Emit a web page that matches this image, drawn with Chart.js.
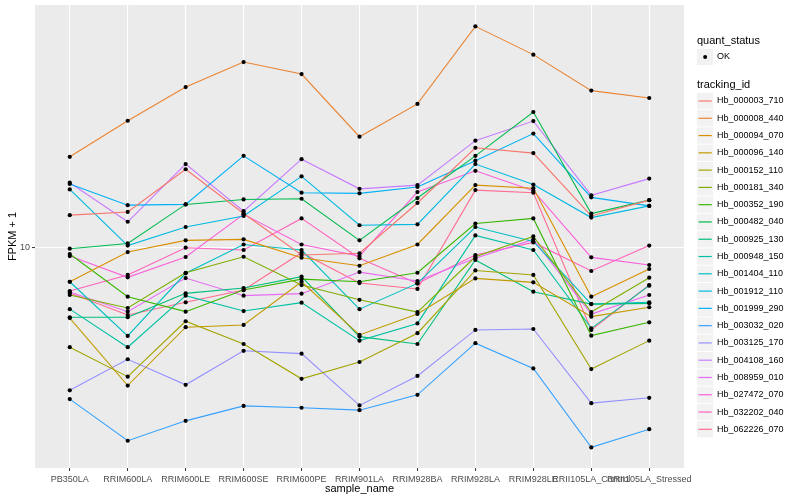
<!DOCTYPE html>
<html>
<head>
<meta charset="utf-8">
<script src="https://cdn.jsdelivr.net/npm/chart.js@4"></script>
<style>
html, body { margin: 0; padding: 0; background: #fff; }
#wrap { width: 800px; height: 500px; position: relative; }
</style>
</head>
<body>
<div id="wrap"><canvas id="chart" width="800" height="500"></canvas></div>
<script>
// FPKM + 1 per sample (log10 y axis)
const sampleNames = ['PB350LA', 'RRIM600LA', 'RRIM600LE', 'RRIM600SE', 'RRIM600PE', 'RRIM901LA',
    'RRIM928BA', 'RRIM928LA', 'RRIM928LE', 'RRII105LA_Control', 'RRII105LA_Stressed'];

const trackingIds = ['Hb_000003_710', 'Hb_000008_440', 'Hb_000094_070', 'Hb_000096_140', 'Hb_000152_110',
    'Hb_000181_340', 'Hb_000352_190', 'Hb_000482_040', 'Hb_000925_130', 'Hb_000948_150',
    'Hb_001404_110', 'Hb_001912_110', 'Hb_001999_290', 'Hb_003032_020', 'Hb_003125_170',
    'Hb_004108_160', 'Hb_008959_010', 'Hb_027472_070', 'Hb_032202_040', 'Hb_062226_070'];

const trackingColors = ['#F8766D', '#EA8331', '#D89000', '#C09B00', '#A3A500', '#7CAE00', '#39B600',
    '#00BB4E', '#00BF7D', '#00C1A3', '#00BFC4', '#00BAE0', '#00B0F6', '#35A2FF', '#9590FF',
    '#C77CFF', '#E76BF3', '#FA62DB', '#FF62BC', '#FF6C91'];

const hb000003 = [13.5, 13.9, 20.6, 13.7, 9.35, 9.50, 15.1, 25.1, 23.9, 13.4, 15.5];
const hb000008 = [23.1, 32.2, 43.9, 55.3, 49.5, 27.8, 37.6, 76.8, 59.2, 42.5, 39.7];
const hb000094 = [7.31, 9.61, 10.7, 10.8, 9.12, 8.47, 10.3, 17.8, 17.3, 6.37, 8.22];
const hb000096 = [5.23, 2.81, 4.81, 4.91, 7.31, 4.48, 5.43, 7.54, 7.27, 5.30, 5.78];
const hb000152 = [4.00, 3.05, 5.08, 4.12, 2.99, 3.49, 4.55, 8.11, 7.78, 3.27, 4.25];
const hb000181 = [6.47, 5.74, 7.94, 9.20, 7.09, 6.19, 5.53, 9.20, 11.1, 5.53, 7.59];
const hb000352 = [9.44, 6.37, 5.55, 6.77, 7.49, 7.31, 7.94, 12.5, 13.1, 4.45, 5.03];
const hb000482 = [9.91, 10.4, 14.9, 15.6, 15.7, 10.7, 15.8, 23.3, 34.9, 13.7, 15.5];
const hb000925 = [5.27, 5.27, 6.57, 6.90, 7.66, 4.41, 4.12, 8.93, 6.67, 5.95, 5.99];
const hb000948 = [5.68, 4.00, 6.43, 5.58, 6.03, 4.25, 4.98, 11.2, 9.79, 4.76, 7.05];
const hb001404 = [7.31, 4.44, 7.90, 10.3, 9.79, 5.68, 7.20, 12.1, 10.6, 5.95, 6.05];
const hb001912 = [17.1, 10.2, 12.1, 13.4, 19.3, 12.3, 12.4, 21.6, 17.9, 13.2, 14.7];
const hb001999 = [18.0, 14.8, 14.9, 23.3, 16.6, 16.5, 17.5, 22.3, 28.6, 15.9, 14.7];
const hb003032 = [2.48, 1.69, 2.03, 2.33, 2.29, 2.24, 2.58, 4.15, 3.29, 1.59, 1.88];
const hb003125 = [2.69, 3.58, 2.83, 3.87, 3.77, 2.34, 3.07, 4.69, 4.73, 2.39, 2.51];
const hb004108 = [18.2, 12.7, 21.6, 14.0, 22.6, 17.2, 17.8, 26.8, 32.1, 16.2, 18.9];
const hb008959 = [6.65, 5.55, 7.56, 6.43, 6.55, 7.99, 7.36, 9.07, 10.8, 5.43, 6.47];
const hb027472 = [9.26, 7.61, 9.18, 13.6, 10.3, 9.26, 16.7, 20.3, 16.9, 9.15, 8.53];
const hb032202 = [6.71, 7.78, 10.0, 9.79, 13.1, 9.07, 7.20, 9.35, 10.5, 8.07, 10.2];
const hb062226 = [6.59, 5.38, 6.05, 6.77, 9.55, 7.22, 6.84, 17.0, 16.6, 4.69, 7.09];

const fpkmSeries = [hb000003, hb000008, hb000094, hb000096, hb000152, hb000181, hb000352,
    hb000482, hb000925, hb000948, hb001404, hb001912, hb001999, hb003032, hb003125,
    hb004108, hb008959, hb027472, hb032202, hb062226];

const yTicks = [10];
const yMin = 1.315, yMax = 93.5;

const FONT = '"Liberation Sans", Arial, Helvetica, sans-serif';

function toPoints(values) {
    return values.map(function(v, i) { return { x: i, y: v }; });
}

// lines first, then the black points on top of every line
const datasets = [];
fpkmSeries.forEach(function(values, i) {
    datasets.push({
        label: trackingIds[i],
        data: toPoints(values),
        borderColor: trackingColors[i],
        borderWidth: 1.1,
        pointRadius: 0,
        fill: false,
        tension: 0,
        order: 2
    });
});
fpkmSeries.forEach(function(values, i) {
    datasets.push({
        label: trackingIds[i] + ' OK',
        data: toPoints(values),
        showLine: false,
        pointRadius: 2.1,
        pointBackgroundColor: '#000',
        pointBorderWidth: 0,
        order: 1
    });
});

// grey panel behind the grid
const panelBg = {
    id: 'panelBg',
    beforeDraw: function(chart) {
        const a = chart.chartArea, ctx = chart.ctx;
        ctx.save();
        ctx.fillStyle = '#EBEBEB';
        ctx.fillRect(a.left, a.top, a.right - a.left, a.bottom - a.top);
        ctx.restore();
    }
};

// axis titles and the ggplot-like legend on the right
const ggDecor = {
    id: 'ggDecor',
    afterDraw: function(chart) {
        const ctx = chart.ctx, a = chart.chartArea;
        ctx.save();
        ctx.fillStyle = '#000';
        ctx.textBaseline = 'middle';
        ctx.font = '11px ' + FONT;
        ctx.textAlign = 'center';
        ctx.fillText('sample_name', (a.left + a.right) / 2, 488.5);
        ctx.save();
        ctx.translate(13, (a.top + a.bottom) / 2);
        ctx.rotate(-Math.PI / 2);
        ctx.fillText('FPKM + 1', 0, 0);
        ctx.restore();

        const lx = 697, key = 17.28;
        ctx.textAlign = 'left';
        ctx.font = '11px ' + FONT;
        ctx.fillText('quant_status', lx, 41);
        ctx.fillStyle = '#F2F2F2';
        ctx.fillRect(lx, 57 - key / 2 + 0.5, key - 1, key - 1);
        ctx.fillStyle = '#000';
        ctx.beginPath();
        ctx.arc(lx + key / 2 - 0.5, 57, 2, 0, Math.PI * 2);
        ctx.fill();
        ctx.font = '9px ' + FONT;
        ctx.fillText('OK', lx + 20, 57);

        ctx.font = '11px ' + FONT;
        ctx.fillText('tracking_id', lx, 85);
        trackingIds.forEach(function(id, i) {
            const cy = 101 + i * key;
            ctx.fillStyle = '#F2F2F2';
            ctx.fillRect(lx, cy - key / 2 + 0.5, key - 1, key - 1);
            ctx.strokeStyle = trackingColors[i];
            ctx.lineWidth = 1.2;
            ctx.beginPath();
            ctx.moveTo(lx + 1.5, cy);
            ctx.lineTo(lx + key - 2.5, cy);
            ctx.stroke();
            ctx.fillStyle = '#000';
            ctx.font = '9px ' + FONT;
            ctx.fillText(id, lx + 20, cy);
        });
        ctx.restore();
    }
};

const ctx = document.getElementById('chart').getContext('2d');
new Chart(ctx, {
    type: 'line',
    data: { datasets: datasets },
    plugins: [panelBg, ggDecor],
    options: {
        responsive: false,
        animation: false,
        events: [],
        layout: { padding: { left: 0, right: 116, top: 5, bottom: 0 } },
        plugins: {
            legend: { display: false },
            tooltip: { enabled: false }
        },
        scales: {
            x: {
                type: 'linear',
                min: -0.6,
                max: sampleNames.length - 1 + 0.6,
                bounds: 'data',
                afterBuildTicks: function(scale) {
                    scale.ticks = sampleNames.map(function(n, i) { return { value: i }; });
                },
                afterFit: function(scale) {
                    scale.height = 32;
                    scale.paddingLeft = 0;
                    scale.paddingRight = 0;
                },
                grid: {
                    color: '#FFFFFF',
                    lineWidth: 1.1,
                    drawTicks: true,
                    tickLength: 3,
                    tickColor: '#333333',
                    tickWidth: 1
                },
                border: { display: false },
                ticks: {
                    autoSkip: false,
                    maxRotation: 0,
                    minRotation: 0,
                    padding: 3,
                    color: '#4D4D4D',
                    font: { family: FONT, size: 9 },
                    callback: function(value) { return sampleNames[value]; }
                }
            },
            y: {
                type: 'logarithmic',
                min: yMin,
                max: yMax,
                bounds: 'data',
                afterBuildTicks: function(scale) {
                    scale.ticks = yTicks.map(function(v) { return { value: v }; });
                },
                afterFit: function(scale) {
                    scale.width = 35;
                    scale.paddingTop = 0;
                    scale.paddingBottom = 0;
                },
                grid: {
                    color: '#FFFFFF',
                    lineWidth: 1.1,
                    drawTicks: true,
                    tickLength: 3,
                    tickColor: '#333333',
                    tickWidth: 1
                },
                border: { display: false },
                ticks: {
                    padding: 2,
                    color: '#4D4D4D',
                    font: { family: FONT, size: 9 },
                    callback: function(value) { return String(value); }
                }
            }
        }
    }
});
</script>
</body>
</html>
